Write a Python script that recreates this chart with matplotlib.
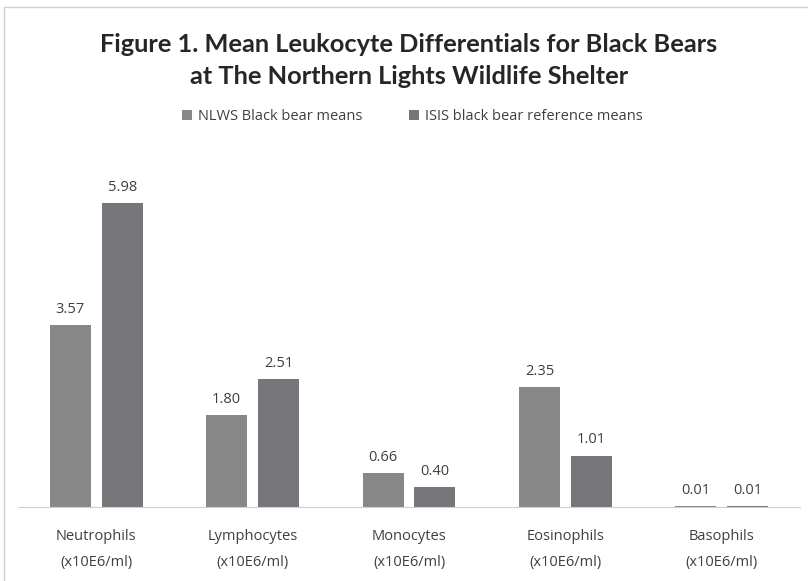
import matplotlib
matplotlib.use("Agg")
import matplotlib.pyplot as plt
from matplotlib.patches import Rectangle
import numpy as np

categories = ["Neutrophils\n(x10E6/ml)", "Lymphocytes\n(x10E6/ml)", "Monocytes\n(x10E6/ml)",
              "Eosinophils\n(x10E6/ml)", "Basophils\n(x10E6/ml)"]
nlws = [3.57, 1.80, 0.66, 2.35, 0.01]
isis = [5.98, 2.51, 0.40, 1.01, 0.01]
series_names = ["NLWS Black bear means", "ISIS black bear reference means"]

W, H = 808, 581
fig = plt.figure(figsize=(W/100, H/100), dpi=100)
plt.rcParams['font.family'] = ['Open Sans', 'DejaVu Sans']

# chart border
fig.add_artist(Rectangle((4/W, -0.1), 1.2, (H-7)/H + 0.1, transform=fig.transFigure,
                         fill=False, edgecolor="#d0d0d0", linewidth=1.0))

ax = fig.add_axes([18/W, 1-507/H, (800-18)/W, (507-151)/H])
x = np.arange(len(categories))
bw = 0.262
off = 0.166
c1, c2 = "#878787", "#77777b"
b1 = ax.bar(x - off, nlws, bw, color=c1, label=series_names[0])
b2 = ax.bar(x + off, isis, bw, color=c2, label=series_names[1])
for bars, vals in ((b1, nlws), (b2, isis)):
    for r, v in zip(bars, vals):
        ax.text(r.get_x() + r.get_width()/2, v + 0.16, f"{v:.2f}", ha="center", va="bottom",
                fontsize=10.5, color="#404040")
ax.set_xlim(-0.5, len(categories) - 0.5)
ax.set_ylim(0, 7)
ax.set_yticks([])
ax.set_xticks(x)
ax.set_xticklabels(categories, fontsize=10.5, color="#404040", linespacing=1.95)
ax.tick_params(axis="x", length=0, pad=16)
for s in ("top", "right", "left"):
    ax.spines[s].set_visible(False)
ax.spines["bottom"].set_color("#d0d0d0")

tfont = dict(ha="center", va="center", fontsize=18.3, fontweight="bold", color="#262626",
             family=["Lato", "DejaVu Sans"])
fig.text(409/W, 1-44/H, "Figure 1. Mean Leukocyte Differentials for Black Bears", **tfont)
fig.text(409/W, 1-77/H, "at The Northern Lights Wildlife Shelter", **tfont)

leg = fig.legend(handles=[b1, b2], loc="center", bbox_to_anchor=(412/W, 1-117/H), ncol=2,
                 frameon=False, fontsize=10.5, handlelength=0.7, handleheight=0.7,
                 handletextpad=0.4, columnspacing=3.2)
for t in leg.get_texts():
    t.set_color("#404040")

fig.savefig("out.png", dpi=100)
